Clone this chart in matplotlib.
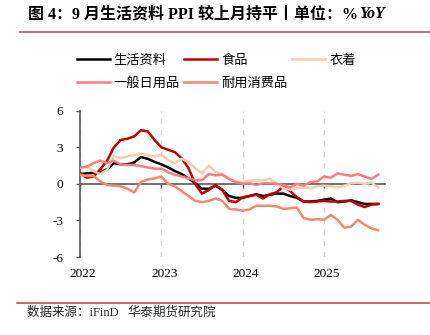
import matplotlib
matplotlib.use('Agg')
import matplotlib.pyplot as plt
from matplotlib.lines import Line2D
import matplotlib.transforms as mtransforms
import numpy as np

# monthly, Jan 2022 - Sep 2025
months = np.arange(45)
year_ticks = [0, 12, 24, 36]
year_labels = ['2022', '2023', '2024', '2025']

living = [0.8, 0.87, 0.9, 0.95, 1.2, 1.7, 1.6, 1.6, 1.75, 2.2, 2.05, 1.8,
          1.6, 1.35, 1.05, 0.8, 0.45, 0.05, -0.4, -0.4, -0.15, -0.5, -1.0, -1.15,
          -1.15, -1.0, -0.85, -1.0, -0.9, -0.8, -0.8, -1.0, -1.15, -1.45, -1.45, -1.4,
          -1.3, -1.2, -1.5, -1.45, -1.35, -1.5, -1.65, -1.65, -1.65]
food = [0.9, 0.5, 0.6, 1.2, 1.9, 3.0, 3.6, 3.7, 3.9, 4.4, 4.3, 3.6,
        3.0, 2.8, 2.6, 2.1, 1.3, 0.0, -0.8, -0.5, -0.1, -0.5, -1.4, -1.5,
        -1.1, -1.0, -0.9, -1.2, -0.85, -0.7, -0.2, -0.6, -1.1, -1.45, -1.5, -1.45,
        -1.4, -1.45, -1.45, -1.4, -1.4, -1.7, -1.9, -1.7, -1.65]
clothing = [1.3, 1.4, 1.05, 0.8, 1.15, 2.3, 2.1, 2.25, 2.35, 2.5, 2.35, 2.25,
            2.4, 1.95, 1.7, 2.05, 1.8, 1.3, 0.85, 1.5, 1.0, 0.8, 0.45, 0.15,
            0.15, 0.25, 0.3, 0.3, 0.4, 0.05, -0.35, -0.5, -0.35, -0.3, -0.35, -0.2,
            -0.15, -0.2, -0.3, -0.15, 0.05, 0.1, 0.0, 0.1, -0.3]
daily = [1.35, 1.4, 1.7, 1.9, 1.7, 1.9, 1.6, 1.55, 1.55, 1.45, 1.35, 1.25,
         1.25, 0.95, 0.75, 0.6, 0.45, 0.3, 0.3, 0.8, 0.7, 0.75, 0.4, 0.15,
         0.0, 0.05, -0.1, 0.05, 0.05, 0.0, -0.1, -0.3, 0.0, -0.15, 0.15, 0.2,
         0.6, 0.5, 0.85, 0.75, 0.65, 0.8, 0.6, 0.4, 0.75]
durable = [0.75, 0.65, 0.65, 0.2, -0.1, -0.15, -0.2, -0.4, -0.7, 0.15, 0.35, 0.45,
           0.6, 0.0, -0.2, -0.6, -1.0, -1.4, -1.5, -1.4, -1.2, -1.4, -2.05, -2.1,
           -2.2, -2.1, -1.8, -1.8, -1.8, -1.85, -2.05, -2.0, -1.95, -2.8, -2.95, -2.9,
           -2.95, -2.55, -2.95, -3.6, -3.5, -2.95, -3.35, -3.65, -3.8]

series = [
    ('生活资料', living, '#000000'),
    ('食品', food, '#C00000'),
    ('衣着', clothing, '#F8CBAD'),
    ('一般日用品', daily, '#FF7C80'),
    ('耐用消费品', durable, '#F4896B'),
]

cjk = ['Noto Sans CJK SC', 'DejaVu Sans']
serif_cjk = ['Liberation Serif', 'Noto Sans CJK SC']

fig = plt.figure(figsize=(4.3, 3.35), dpi=100)
ax = fig.add_axes([80 / 430, 1 - 257 / 335, (385 - 80) / 430, (257 - 110.7) / 335])

lines = {}
for name, vals, color in series:
    ln, = ax.plot(months, vals, color=color, lw=1.8, label=name, zorder=3)
    lines[name] = ln

ax.set_xlim(0, 45)
ax.set_ylim(-6, 6)
ax.set_yticks([-6, -3, 0, 3, 6])
ax.set_yticklabels(['-6', '-3', '0', '3', '6'], fontfamily='Liberation Serif', fontsize=9.5)
ax.tick_params(axis='y', length=3, width=1, color='#595959', pad=9)

ax.spines['top'].set_visible(False)
ax.spines['right'].set_visible(False)
ax.spines['left'].set_color('#595959')
ax.spines['left'].set_linewidth(1.2)
ax.spines['bottom'].set_position(('data', 0))
ax.spines['bottom'].set_color('#595959')
ax.spines['bottom'].set_linewidth(1.2)
ax.spines['bottom'].set_zorder(2)
ax.set_xticks(year_ticks)
ax.tick_params(axis='x', labelbottom=False, length=3, width=1, color='#595959')
ax.grid(axis='x', ls=(0, (4, 4)), color='#D9D9D9', lw=1)

sec = ax.secondary_xaxis(location=0)
sec.set_xticks(year_ticks)
sec.set_xticklabels(year_labels, fontfamily='Liberation Serif', fontsize=9.5)
sec.tick_params(length=0, pad=8)
sec.spines['bottom'].set_visible(False)
shift = mtransforms.ScaledTranslation(3 / 100, 0, fig.dpi_scale_trans)
for lab in sec.get_xticklabels():
    lab.set_transform(lab.get_transform() + shift)

order = ['生活资料', '一般日用品', '食品', '耐用消费品', '衣着']
fig.legend([lines[n] for n in order], order, ncol=3, frameon=False,
           loc='upper left', bbox_to_anchor=(70 / 430, 1 - 47 / 335),
           prop={'family': cjk, 'size': 9.5}, handlelength=2.5,
           handletextpad=0.3, columnspacing=0.35, labelspacing=0.75, borderpad=0)

t1 = fig.text(28 / 430, 1 - 14 / 335, '图 4：9 月生活资料 PPI 较上月持平丨单位：%',
              fontfamily=serif_cjk, fontweight='bold', fontsize=11.5, va='center')
ax.annotate('YoY', xy=(1, 0.5), xycoords=t1, xytext=(0.5, 0), textcoords='offset points',
            va='center', ha='left',
            fontfamily='Liberation Serif', fontweight='bold', style='italic', fontsize=11.5,
            annotation_clip=False)

fig.add_artist(Line2D([20 / 430, 1], [1 - 32 / 335] * 2, color='#C0504D', lw=1.2))
fig.add_artist(Line2D([17 / 430, 1], [1 - 303 / 335] * 2, color='#C0504D', lw=1.2))

fig.text(27 / 430, 1 - 313 / 335, '数据来源：iFinD   华泰期货研究院',
         fontfamily=serif_cjk, fontsize=9, va='center', color='#262626')

fig.savefig('out.png', dpi=100)
